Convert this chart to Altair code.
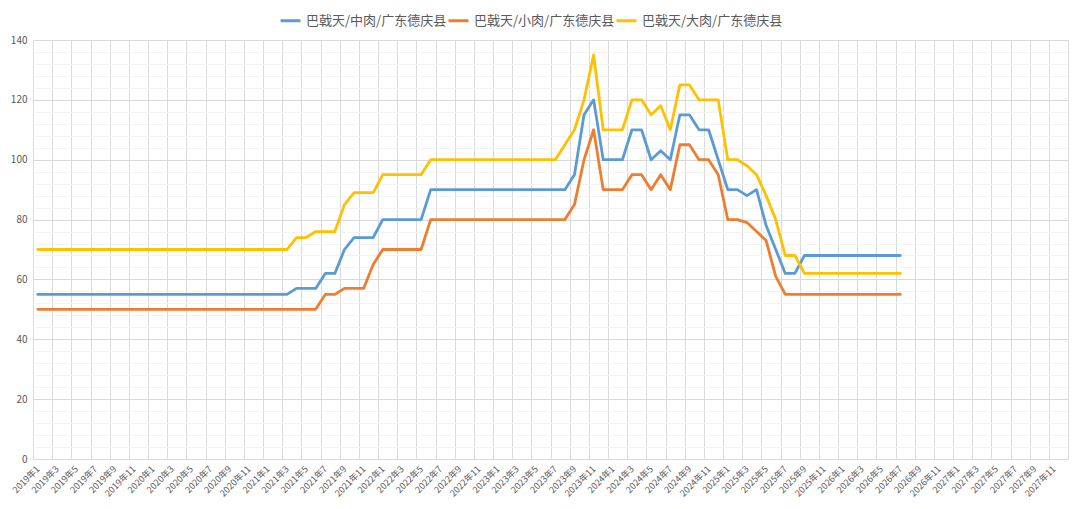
import altair as alt
import pandas as pd

series_names = ["巴戟天/中肉/广东德庆县", "巴戟天/小肉/广东德庆县", "巴戟天/大肉/广东德庆县"]
series_colors = ["#5B9BD5", "#ED7D31", "#FFC000"]

years = [2019, 2020, 2021, 2022, 2023, 2024, 2025, 2026, 2027]
months = [1, 2, 3, 4, 5, 6, 7, 8, 9, 10, 11, 12]
categories = [f"{y}年{m}" for y in years for m in months]

zhong = [55, 55, 55, 55, 55, 55, 55, 55, 55, 55, 55, 55, 55, 55, 55, 55, 55, 55,
         55, 55, 55, 55, 55, 55, 55, 55, 55, 57, 57, 57, 62, 62, 70, 74, 74, 74,
         80, 80, 80, 80, 80, 90, 90, 90, 90, 90, 90, 90, 90, 90, 90, 90, 90, 90,
         90, 90, 95, 115, 120, 100, 100, 100, 110, 110, 100, 103, 100, 115, 115, 110, 110, 100,
         90, 90, 88, 90, 78, 70, 62, 62, 68, 68, 68, 68, 68, 68, 68, 68, 68, 68, 68]
xiao = [50, 50, 50, 50, 50, 50, 50, 50, 50, 50, 50, 50, 50, 50, 50, 50, 50, 50,
        50, 50, 50, 50, 50, 50, 50, 50, 50, 50, 50, 50, 55, 55, 57, 57, 57, 65,
        70, 70, 70, 70, 70, 80, 80, 80, 80, 80, 80, 80, 80, 80, 80, 80, 80, 80,
        80, 80, 85, 100, 110, 90, 90, 90, 95, 95, 90, 95, 90, 105, 105, 100, 100, 95,
        80, 80, 79, 76, 73, 61, 55, 55, 55, 55, 55, 55, 55, 55, 55, 55, 55, 55, 55]
da = [70, 70, 70, 70, 70, 70, 70, 70, 70, 70, 70, 70, 70, 70, 70, 70, 70, 70,
      70, 70, 70, 70, 70, 70, 70, 70, 70, 74, 74, 76, 76, 76, 85, 89, 89, 89,
      95, 95, 95, 95, 95, 100, 100, 100, 100, 100, 100, 100, 100, 100, 100, 100, 100, 100,
      100, 105, 110, 120, 135, 110, 110, 110, 120, 120, 115, 118, 110, 125, 125, 120, 120, 120,
      100, 100, 98, 95, 88, 80, 68, 68, 62, 62, 62, 62, 62, 62, 62, 62, 62, 62, 62]

rows = []
for name, vals in zip(series_names, [zhong, xiao, da]):
    for i, v in enumerate(vals):
        rows.append({"idx": i, "month": categories[i], "series": name, "value": v})
df = pd.DataFrame(rows)

n = len(categories)
x_vals = []
for k in range(0, n, 2):
    x_vals += [k - 0.5, k]
x_vals.append(n - 0.5)

y_vals = list(range(0, 141, 4))

grid_gray = "#d9d9d9"
text_gray = "#595959"

x_axis = alt.Axis(
    values=x_vals,
    title=None,
    ticks=False,
    domain=False,
    grid=True,
    gridColor=grid_gray,
    gridWidth=1,
    gridOpacity={"condition": {"test": "datum.value != floor(datum.value)", "value": 1}, "value": 0},
    labelExpr="datum.value == floor(datum.value) ? (floor(datum.value / 12) + 2019) + '年' + (datum.value % 12 + 1) : ''",
    labelAngle=-45,
    labelAlign="right",
    labelBaseline="middle",
    labelFontSize=9,
    labelColor=text_gray,
    labelOverlap=False,
    labelFlush=False,
    labelBound=False,
    labelPadding=8,
)

y_axis = alt.Axis(
    values=y_vals,
    title=None,
    ticks=False,
    domain=False,
    grid=True,
    gridColor={"condition": {"test": "datum.value % 20 == 0", "value": grid_gray}, "value": "#f3f3f3"},
    labelExpr="datum.value % 20 == 0 ? datum.label : ''",
    labelFontSize=10,
    labelColor=text_gray,
    labelPadding=6,
    labelOverlap=False,
)

chart = alt.Chart(df).mark_line(strokeWidth=2.8, strokeJoin="round", strokeCap="round").encode(
    x=alt.X("idx:Q", scale=alt.Scale(domain=[-0.5, n - 0.5], nice=False, zero=False), axis=x_axis),
    y=alt.Y("value:Q", scale=alt.Scale(domain=[0, 140], nice=False), axis=y_axis),
    color=alt.Color(
        "series:N",
        scale=alt.Scale(domain=series_names, range=series_colors),
        legend=alt.Legend(
            title=None,
            orient="none",
            legendX=246,
            legendY=-31,
            direction="horizontal",
            symbolType="stroke",
            symbolStrokeWidth=3,
            symbolSize=400,
            labelFontSize=13,
            labelColor=text_gray,
            labelLimit=400,
            labelOffset=4,
            columnPadding=-6,
        ),
    ),
).properties(
    width=1035,
    height=419,
    padding={"left": 25, "top": 32, "right": 4, "bottom": 40},
    autosize=alt.AutoSizeParams(type="none"),
    background="white",
).configure(
    font="Noto Sans CJK SC"
).configure_view(strokeWidth=0)

chart.save("out.html", embed_options={"renderer": "svg", "actions": False})
